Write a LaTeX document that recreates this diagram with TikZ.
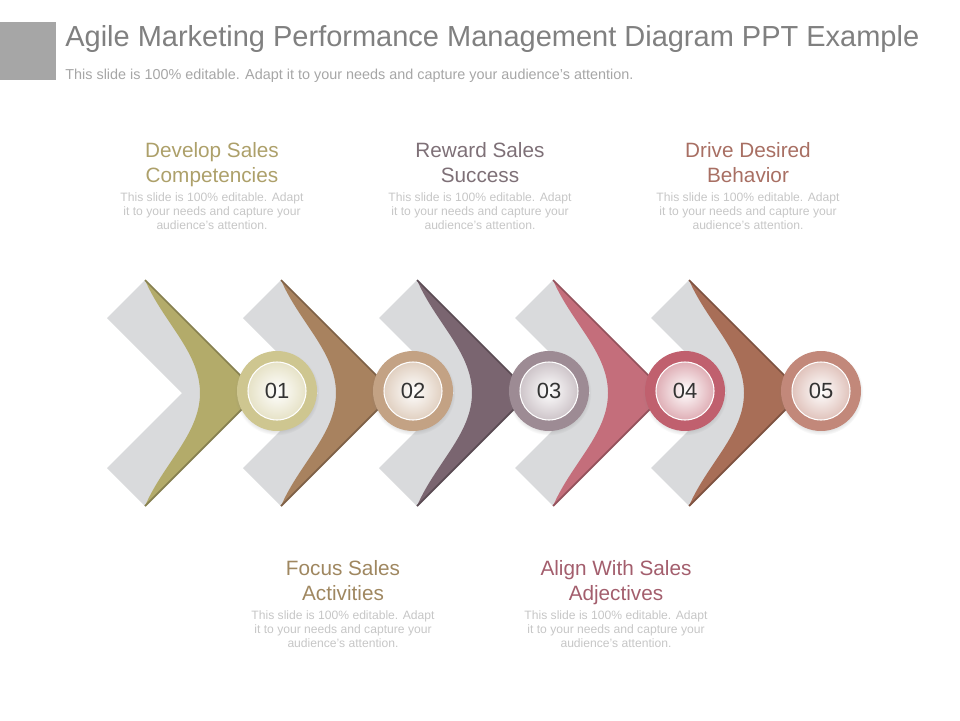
\documentclass[tikz,border=0pt]{standalone}
\usepackage{fontspec}
\setmainfont{Liberation Sans}
\usepackage{tikz}
\usetikzlibrary{shadows}
\definecolor{bandgrey}{HTML}{D9DADC}
\definecolor{fillA}{HTML}{B3AB6A}
\definecolor{fillB}{HTML}{A8825F}
\definecolor{fillC}{HTML}{7A6570}
\definecolor{fillD}{HTML}{C46E7B}
\definecolor{fillE}{HTML}{A86E57}
\definecolor{ringA}{HTML}{CEC690}
\definecolor{ringB}{HTML}{C3A284}
\definecolor{ringC}{HTML}{9D8B94}
\definecolor{ringD}{HTML}{C0606E}
\definecolor{ringE}{HTML}{C2887A}
\definecolor{headA}{HTML}{ADA06A}
\definecolor{headB}{HTML}{7E7077}
\definecolor{headC}{HTML}{A86F63}
\definecolor{headD}{HTML}{9F8760}
\definecolor{headE}{HTML}{A35E6D}
\definecolor{desctext}{HTML}{C6C6C6}
\tikzset{band/.style={fill=bandgrey}}
\tikzset{rim/.style={draw=#1!75!black, line width=1pt, line join=miter}}
\tikzset{ball/.style={circle, minimum size=1.6cm, inner sep=0pt, fill=#1,
  circular drop shadow={shadow xshift=0pt, shadow yshift=-1pt, shadow scale=1.06, opacity=.3},
  text=black!80, font=\fontsize{12.5}{12.5}\selectfont,
  path picture={
    \shade[inner color=white, outer color=#1!70!white] (path picture bounding box.center) circle [radius=0.58cm];
    \draw[white, line width=.6pt] (path picture bounding box.center) circle [radius=0.58cm];}}}
\tikzset{head/.style={anchor=north, align=center, text=#1, font=\fontsize{11.8}{14.2}\selectfont}}
\tikzset{desc/.style={align=center, text=desctext, font=\fontsize{6.9}{7.9}\selectfont}}

\begin{document}
\begin{tikzpicture}[x=0.02cm, y=-0.02cm]
\useasboundingbox (0,0) rectangle (960,720);

\fill[black!35] (0,22) rectangle (56,80);
\node [anchor=base west, inner sep=0pt, text=black!50, font=\fontsize{16.5}{16.5}\selectfont] (title) at (65,46) {Agile Marketing Performance Management Diagram PPT Example};
\node [anchor=base west, inner sep=0pt, text=black!35, font=\fontsize{8.2}{8.2}\selectfont] (subtitle) at (65,79) {This slide is 100\% editable. Adapt it to your needs and capture your audience's attention.};

% chevrons
\begin{scope}
\fill[band] (107,318) -- (145,280) -- (258,393) -- (145,506) -- (107,468) -- (182,393) -- cycle;
\fill[fillA] (145,280) -- (258,393) -- (145,506) .. controls (163,464) and (200,434) .. (200,393) .. controls (200,352) and (163,322) .. (145,280);
\draw[rim=fillA] (145,280) -- (258,393) -- (145,506);
\end{scope}
\begin{scope}[shift={(136,0)}]
\fill[band] (107,318) -- (145,280) -- (258,393) -- (145,506) -- (107,468) -- (182,393) -- cycle;
\fill[fillB] (145,280) -- (258,393) -- (145,506) .. controls (163,464) and (200,434) .. (200,393) .. controls (200,352) and (163,322) .. (145,280);
\draw[rim=fillB] (145,280) -- (258,393) -- (145,506);
\end{scope}
\begin{scope}[shift={(272,0)}]
\fill[band] (107,318) -- (145,280) -- (258,393) -- (145,506) -- (107,468) -- (182,393) -- cycle;
\fill[fillC] (145,280) -- (258,393) -- (145,506) .. controls (163,464) and (200,434) .. (200,393) .. controls (200,352) and (163,322) .. (145,280);
\draw[rim=fillC] (145,280) -- (258,393) -- (145,506);
\end{scope}
\begin{scope}[shift={(408,0)}]
\fill[band] (107,318) -- (145,280) -- (258,393) -- (145,506) -- (107,468) -- (182,393) -- cycle;
\fill[fillD] (145,280) -- (258,393) -- (145,506) .. controls (163,464) and (200,434) .. (200,393) .. controls (200,352) and (163,322) .. (145,280);
\draw[rim=fillD] (145,280) -- (258,393) -- (145,506);
\end{scope}
\begin{scope}[shift={(544,0)}]
\fill[band] (107,318) -- (145,280) -- (258,393) -- (145,506) -- (107,468) -- (182,393) -- cycle;
\fill[fillE] (145,280) -- (258,393) -- (145,506) .. controls (163,464) and (200,434) .. (200,393) .. controls (200,352) and (163,322) .. (145,280);
\draw[rim=fillE] (145,280) -- (258,393) -- (145,506);
\end{scope}

% numbered circles
\node [ball=ringA] (s1) at (277,391) {01};
\node [ball=ringB] (s2) at (413,391) {02};
\node [ball=ringC] (s3) at (549,391) {03};
\node [ball=ringD] (s4) at (685,391) {04};
\node [ball=ringE] (s5) at (821,391) {05};

% top texts
\node [head=headA] (h1) at (212,136) {Develop Sales\\Competencies};
\node [desc] (d1) at (212,211) {This slide is 100\% editable. Adapt\\it to your needs and capture your\\audience's attention.};
\node [head=headB] (h3) at (480,136) {Reward Sales\\Success};
\node [desc] (d3) at (480,211) {This slide is 100\% editable. Adapt\\it to your needs and capture your\\audience's attention.};
\node [head=headC] (h5) at (748,136) {Drive Desired\\Behavior};
\node [desc] (d5) at (748,211) {This slide is 100\% editable. Adapt\\it to your needs and capture your\\audience's attention.};

% bottom texts
\node [head=headD] (h2) at (343,554) {Focus Sales\\Activities};
\node [desc] (d2) at (343,629) {This slide is 100\% editable. Adapt\\it to your needs and capture your\\audience's attention.};
\node [head=headE] (h4) at (616,554) {Align With Sales\\Adjectives};
\node [desc] (d4) at (616,629) {This slide is 100\% editable. Adapt\\it to your needs and capture your\\audience's attention.};

\end{tikzpicture}
\end{document}
